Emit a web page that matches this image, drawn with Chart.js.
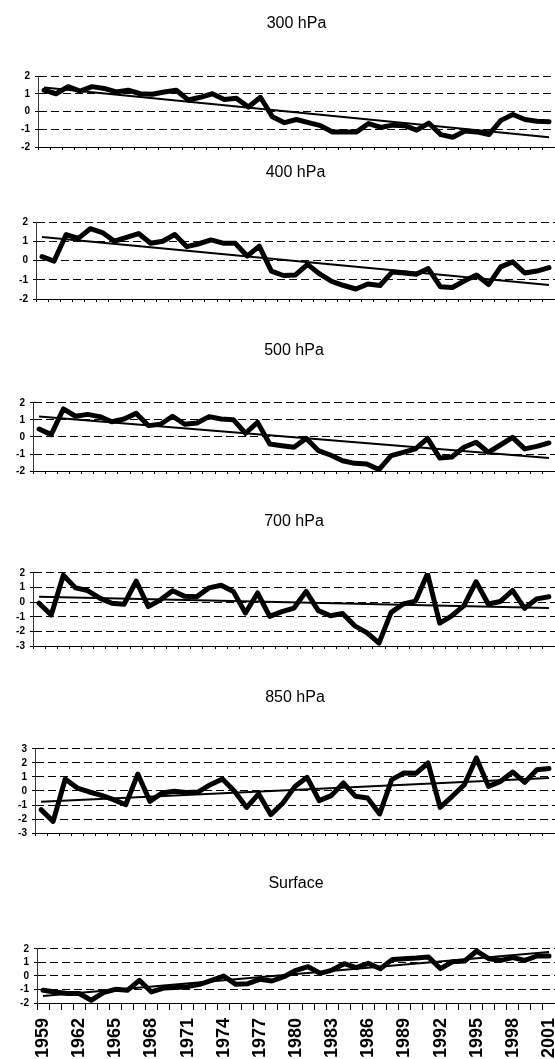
<!DOCTYPE html>
<html lang="en">
<head>
<meta charset="UTF-8">
<title>Standardized anomalies by level, 1959-2001</title>
<script src="https://cdn.jsdelivr.net/npm/chart.js"></script>
<style>
  html, body { margin: 0; padding: 0; background: #fff; }
  body { width: 555px; height: 1059px; overflow: hidden; position: relative; }
  .panel { position: absolute; left: 0; width: 555px; }
</style>
</head>
<body>
<script>
const years = ['1959','1960','1961','1962','1963','1964','1965','1966','1967','1968',
  '1969','1970','1971','1972','1973','1974','1975','1976','1977','1978',
  '1979','1980','1981','1982','1983','1984','1985','1986','1987','1988',
  '1989','1990','1991','1992','1993','1994','1995','1996','1997','1998',
  '1999','2000','2001'];

const v300 = [1.2, 1.0, 1.4, 1.15, 1.4, 1.3, 1.1, 1.2, 1.0, 0.97,
  1.1, 1.2, 0.65, 0.8, 1.0, 0.67, 0.75, 0.25, 0.8, -0.3,
  -0.63, -0.45, -0.63, -0.8, -1.15, -1.15, -1.15, -0.68, -0.9, -0.77,
  -0.8, -1.05, -0.65, -1.3, -1.45, -1.1, -1.15, -1.3, -0.5, -0.17,
  -0.45, -0.55, -0.58];
const v400 = [0.2, -0.03, 1.35, 1.15, 1.65, 1.45, 1.0, 1.2, 1.4, 0.9,
  1.0, 1.35, 0.72, 0.87, 1.07, 0.9, 0.9, 0.23, 0.75, -0.55,
  -0.78, -0.75, -0.2, -0.7, -1.08, -1.3, -1.48, -1.22, -1.3, -0.6,
  -0.65, -0.72, -0.42, -1.36, -1.4, -1.05, -0.75, -1.25, -0.33, -0.07,
  -0.65, -0.55, -0.37];
const v500 = [0.47, 0.14, 1.65, 1.22, 1.33, 1.2, 0.9, 1.06, 1.39, 0.67,
  0.75, 1.22, 0.75, 0.82, 1.2, 1.06, 1.02, 0.22, 0.86, -0.41,
  -0.51, -0.6, -0.08, -0.8, -1.06, -1.4, -1.55, -1.59, -1.92, -1.1,
  -0.9, -0.7, -0.08, -1.23, -1.18, -0.6, -0.31, -0.9, -0.47, -0.02,
  -0.7, -0.55, -0.35];
const v700 = [-0.07, -0.88, 1.85, 0.98, 0.8, 0.28, -0.07, -0.14, 1.44, -0.3,
  0.16, 0.78, 0.4, 0.38, 0.98, 1.16, 0.74, -0.74, 0.63, -0.97,
  -0.65, -0.4, 0.74, -0.58, -0.93, -0.77, -1.62, -2.08, -2.8, -0.7,
  -0.12, 0.07, 1.95, -1.43, -0.93, -0.23, 1.4, -0.12, 0.05, 0.8,
  -0.42, 0.23, 0.37];
const v850 = [-1.33, -2.17, 0.86, 0.21, -0.07, -0.31, -0.62, -0.98, 1.21, -0.74,
  -0.14, -0.02, -0.1, -0.07, 0.45, 0.86, -0.02, -1.17, -0.21, -1.69,
  -0.86, 0.33, 0.98, -0.69, -0.33, 0.57, -0.38, -0.5, -1.64, 0.81,
  1.29, 1.26, 2.0, -1.17, -0.38, 0.45, 2.36, 0.33, 0.69, 1.36,
  0.62, 1.52, 1.6];
const vSurface = [-1.06, -1.18, -1.3, -1.3, -1.8, -1.23, -0.99, -1.06, -0.32, -1.18,
  -0.89, -0.86, -0.79, -0.62, -0.32, 0.0, -0.62, -0.57, -0.25, -0.37,
  -0.05, 0.42, 0.69, 0.2, 0.44, 0.91, 0.62, 0.94, 0.54, 1.23,
  1.28, 1.33, 1.4, 0.54, 1.06, 1.11, 1.85, 1.28, 1.16, 1.36,
  1.16, 1.48, 1.48];

// linear trend lines: value at 1959 and at 2001
const trend300 = [1.35, -1.45];
const trend400 = [1.22, -1.27];
const trend500 = [1.2, -1.23];
const trend700 = [0.37, -0.39];
const trend850 = [-0.76, 0.93];
const trendSurface = [-1.48, 1.78];

const titles = ['300 hPa', '400 hPa', '500 hPa', '700 hPa', '850 hPa', 'Surface'];
const yMin = [-2, -2, -2, -3, -3, -2];
const yMax = [2, 2, 2, 2, 3, 2];

const series = [v300, v400, v500, v700, v850, vSurface];
const trends = [trend300, trend400, trend500, trend700, trend850, trendSurface];

// page geometry: title centre, plot top, plot bottom, y-axis position
const boxes = [
  { tc: 24,  top: 76,  bottom: 147,  left: 38 },
  { tc: 173, top: 222, bottom: 299,  left: 36 },
  { tc: 351, top: 403, bottom: 471,  left: 33 },
  { tc: 522, top: 573, bottom: 646,  left: 33 },
  { tc: 698, top: 749, bottom: 833,  left: 35 },
  { tc: 884, top: 949, bottom: 1003, left: 37 }
];

const FONT = 'Liberation Sans, Arial, sans-serif';
const TITLE_SIZE = 16;

titles.forEach((title, k) => {
  const g = boxes[k];
  const last = k === titles.length - 1;
  const xh = last ? 70 : 3;
  const half = TITLE_SIZE * 1.2 / 2;
  const T = Math.floor(g.tc - half - 3);
  const padTop = g.tc - half - T;

  const div = document.createElement('div');
  div.className = 'panel';
  div.style.top = T + 'px';
  div.style.height = (g.bottom - T + xh) + 'px';
  const cv = document.createElement('canvas');
  div.appendChild(cv);
  document.body.appendChild(div);

  const tr = trends[k];
  const trendData = years.map((y, i) => i === 0 ? tr[0] : (i === years.length - 1 ? tr[1] : null));

  new Chart(cv, {
    type: 'line',
    data: {
      labels: years,
      datasets: [
        { data: series[k], borderColor: '#000', borderWidth: 5, pointRadius: 0,
          borderJoinStyle: 'round', borderCapStyle: 'round', tension: 0 },
        { data: trendData, borderColor: '#000', borderWidth: 2, pointRadius: 0, spanGaps: true }
      ]
    },
    options: {
      responsive: true,
      maintainAspectRatio: false,
      animation: false,
      layout: { padding: 0 },
      plugins: {
        legend: { display: false },
        tooltip: { enabled: false },
        title: {
          display: true, text: title, fullSize: false, color: '#000',
          font: { family: FONT, size: TITLE_SIZE, weight: 'normal', lineHeight: 1.2 },
          padding: { top: padTop, bottom: g.top - g.tc - half }
        }
      },
      scales: {
        x: {
          offset: true,
          grid: { offset: true, drawOnChartArea: false, drawTicks: true,
                  tickLength: last ? 7 : 3, color: '#000', lineWidth: 1 },
          border: { display: true, color: '#000', width: 1 },
          ticks: {
            display: last, autoSkip: false, maxRotation: 90, minRotation: 90,
            padding: 8, color: '#000',
            font: { family: FONT, size: 18, weight: 'bold' },
            callback: (v, i) => i % 3 === 0 ? years[i] : ''
          },
          afterFit: s => { s.height = xh; s.paddingLeft = 0; s.paddingRight = 0; }
        },
        y: {
          min: yMin[k], max: yMax[k],
          ticks: { stepSize: 1, autoSkip: false, padding: 5, color: '#000',
                   font: { family: FONT, size: 10, weight: 'bold' } },
          grid: { color: '#000', lineWidth: 1, tickLength: 3, tickColor: '#000' },
          border: { display: true, color: '#333', width: 1, dash: [8, 4] },
          afterFit: s => { s.width = g.left; s.paddingTop = 0; s.paddingBottom = 0; }
        }
      }
    }
  });
});
</script>
</body>
</html>
